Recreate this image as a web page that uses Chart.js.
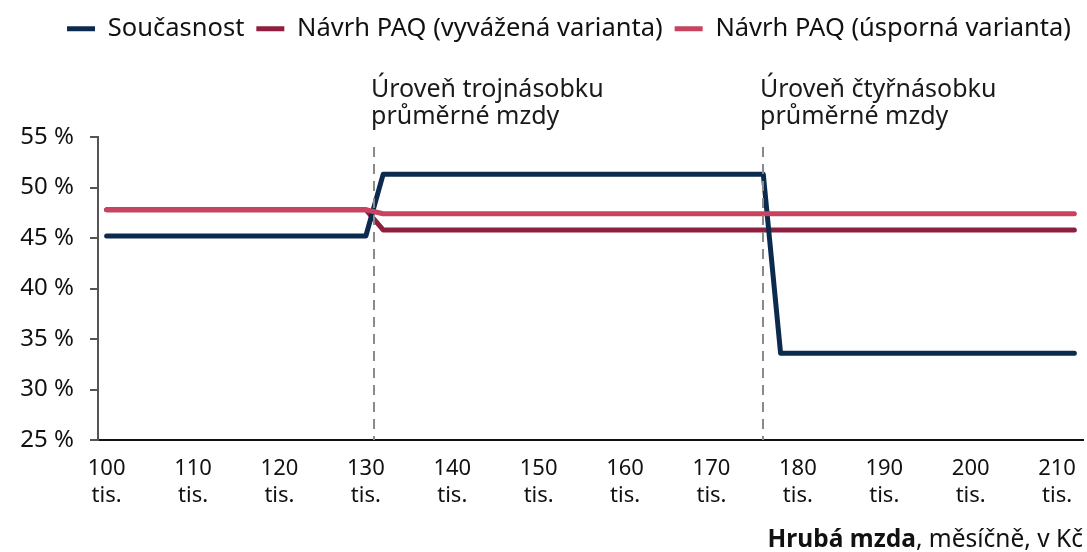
<!DOCTYPE html>
<html>
<head>
<meta charset="utf-8">
<script src="https://cdn.jsdelivr.net/npm/chart.js@4"></script>
<style>
    html, body { margin: 0; padding: 0; background: #fff; }
    #box { width: 1087px; height: 552px; position: relative; }
</style>
</head>
<body>
<div id="box"><canvas id="graf"></canvas></div>
<script>
// DATA
const mzdaTis = [100, 130, 132, 176, 178, 212];
const soucasnost = [45.2, 45.2, 51.3, 51.3, 33.6, 33.6];
const navrhVyvazena = [47.8, 47.8, 45.8, 45.8, 45.8, 45.8];
const navrhUsporna = [47.8, 47.8, 47.4, 47.4, 47.4, 47.4];

const xTicks = [100, 110, 120, 130, 140, 150, 160, 170, 180, 190, 200, 210];
const yTicks = [25, 30, 35, 40, 45, 50, 55];

const urovne = [131, 176];
const urovneTexty = [
    ["Úroveň trojnásobku", "průměrné mzdy"],
    ["Úroveň čtyřnásobku", "průměrné mzdy"]
];

const FONT = "'Noto Sans', 'Open Sans', sans-serif";

function body(ys) {
    return mzdaTis.map((x, i) => ({ x: x, y: ys[i] }));
}

// ANOTACE
const urovnePlugin = {
    id: "urovne",
    afterDatasetsDraw(chart) {
        const ctx = chart.ctx;
        const xs = chart.scales.x;
        const ys = chart.scales.y;
        ctx.save();
        ctx.strokeStyle = "#8a8a8a";
        ctx.lineWidth = 2;
        ctx.setLineDash([10, 7]);
        urovne.forEach((u, i) => {
            const px = Math.round(xs.getPixelForValue(u));
            ctx.beginPath();
            ctx.moveTo(px, ys.getPixelForValue(54));
            ctx.lineTo(px, ys.bottom);
            ctx.stroke();

            ctx.fillStyle = "#1a1a1a";
            ctx.font = "25px " + FONT;
            ctx.textBaseline = "middle";
            ctx.textAlign = "left";
            urovneTexty[i].forEach((t, j) => {
                ctx.fillText(t, px - 3, 90 + j * 27);
            });
        });
        ctx.restore();

        // popisek osy x
        ctx.save();
        ctx.textBaseline = "middle";
        ctx.fillStyle = "#111";
        const rest = ", měsíčně, v Kč";
        ctx.font = "24.5px " + FONT;
        const wRest = ctx.measureText(rest).width;
        const right = 1083;
        ctx.textAlign = "right";
        ctx.fillText(rest, right, 540);
        ctx.font = "bold 24.5px " + FONT;
        ctx.fillText("Hrubá mzda", right - wRest, 540);
        ctx.restore();
    }
};

const legendaVyska = {
    id: "legendaVyska",
    beforeInit(chart) {
        const origFit = chart.legend.fit;
        chart.legend.fit = function () {
            origFit.bind(chart.legend)();
            this.height = 133;
        };
    }
};

new Chart(document.getElementById("graf"), {
    type: "line",
    data: {
        datasets: [
            {
                label: "Současnost",
                data: body(soucasnost),
                borderColor: "#0c2a4e",
                backgroundColor: "#0c2a4e",
                borderWidth: 5,
                order: 1
            },
            {
                label: "Návrh PAQ (vyvážená varianta)",
                data: body(navrhVyvazena),
                borderColor: "#8f1e3f",
                backgroundColor: "#8f1e3f",
                borderWidth: 5,
                order: 2
            },
            {
                label: "Návrh PAQ (úsporná varianta)",
                data: body(navrhUsporna),
                borderColor: "#c7435f",
                backgroundColor: "#c7435f",
                borderWidth: 5,
                order: 0
            }
        ]
    },
    options: {
        responsive: true,
        maintainAspectRatio: false,
        animation: false,
        layout: { padding: { top: 4, right: 4, bottom: 0, left: 0 } },
        elements: {
            point: { radius: 0 },
            line: {
                borderWidth: 5,
                tension: 0,
                borderCapStyle: "round",
                borderJoinStyle: "round"
            }
        },
        plugins: {
            tooltip: { enabled: false },
            legend: {
                position: "top",
                align: "end",
                labels: {
                    usePointStyle: true,
                    pointStyle: "line",
                    pointStyleWidth: 28,
                    boxWidth: 28,
                    padding: 12,
                    color: "#111",
                    font: { family: FONT, size: 25.5 },
                    sort: (a, b) => a.datasetIndex - b.datasetIndex
                }
            }
        },
        scales: {
            x: {
                type: "linear",
                min: 99,
                max: 213,
                afterBuildTicks: (scale) => {
                    scale.ticks = xTicks.map(v => ({ value: v }));
                },
                afterFit: (scale) => {
                    scale.height = 112;
                },
                grid: { display: false },
                border: { display: true, color: "#111", width: 2 },
                ticks: {
                    autoSkip: false,
                    maxRotation: 0,
                    padding: 8,
                    color: "#111",
                    font: { family: FONT, size: 22, lineHeight: 1.2 },
                    callback: (v) => [String(v), "tis."]
                }
            },
            y: {
                min: 25,
                max: 55,
                afterBuildTicks: (scale) => {
                    scale.ticks = yTicks.map(v => ({ value: v }));
                },
                afterFit: (scale) => {
                    scale.width = 98;
                },
                grid: {
                    drawOnChartArea: false,
                    drawTicks: true,
                    tickLength: 8,
                    color: "#555",
                    lineWidth: 2
                },
                border: { display: true, color: "#555", width: 2 },
                ticks: {
                    padding: 16,
                    color: "#111",
                    font: { family: FONT, size: 24 },
                    callback: (v) => v + " %"
                }
            }
        }
    },
    plugins: [urovnePlugin, legendaVyska]
});
</script>
</body>
</html>
